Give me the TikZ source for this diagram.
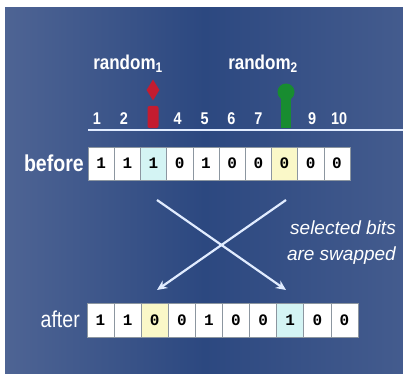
\documentclass[tikz,border=0pt]{standalone}
\usepackage{fontspec}
\setmainfont{Liberation Sans}
\setmonofont{Liberation Mono}
\newfontfamily\condsans[FakeStretch=0.85]{Liberation Sans}
\usetikzlibrary{arrows.meta,shapes.geometric}
\definecolor{bgblue}{RGB}{44,72,128}
\definecolor{bgedge}{RGB}{78,100,148}
\definecolor{linecol}{RGB}{225,236,255}
\definecolor{cellline}{RGB}{140,150,160}
\definecolor{cellcyan}{RGB}{212,244,244}
\definecolor{cellyellow}{RGB}{250,248,200}
\definecolor{markred}{RGB}{196,28,48}
\definecolor{markgreen}{RGB}{24,140,48}
\tikzset{
  lbl/.style={text=white,font=\condsans\bfseries\fontsize{20}{22}\selectfont,inner sep=0pt},
  num/.style={text=white,font=\condsans\bfseries\fontsize{17}{18}\selectfont,inner sep=0pt},
  cell/.style={draw=cellline,line width=0.6pt,minimum width=26.2pt,minimum height=33pt,
    inner sep=0pt,font=\ttfamily\bfseries\fontsize{16}{16}\selectfont},
  swaparrow/.style={linecol,line width=2.2pt,-{Stealth[length=10pt,width=9pt]}}
}
\begin{document}
\begin{tikzpicture}[x=1pt,y=-1pt]
\useasboundingbox (0,0) rectangle (403,374);
\shade[left color=bgedge,right color=bgedge!70!bgblue,middle color=bgblue] (5,8) rectangle (403,373);
% labels on top
\node[lbl] (rnd1) at (128,64) {random\textsubscript{1}};
\node[lbl] (rnd2) at (263,64) {random\textsubscript{2}};
% markers
\node[diamond,fill=markred,inner sep=0pt,minimum width=13pt,minimum height=21pt] (mk1) at (153,90) {};
\fill[markred,rounded corners=2pt] (147.5,106) rectangle (158.5,128);
\node[circle,fill=markgreen,inner sep=0pt,minimum size=17pt] (mk2) at (286,92) {};
\fill[markgreen] (281,97) rectangle (291,128);
% positions
\foreach \i in {1,2,4,5,6,7,9,10}
  \node[num] (n\i) at ({97+26.9*(\i-1)},119) {\i};
\draw[linecol,line width=2pt] (88,130) -- (403,130);
% rows
\node[lbl,anchor=east,font=\condsans\bfseries\fontsize{23}{24}\selectfont] (before) at (84,163) {before};
\foreach \b/\c [count=\i] in {1/white,1/white,1/cellcyan,0/white,1/white,0/white,0/white,0/cellyellow,0/white,0/white}
  \node[cell,fill=\c] (b\i) at ({101.1+26.2*(\i-1)},163.5) {\b};
\node[lbl,anchor=east,font=\condsans\fontsize{23}{24}\selectfont] (after) at (80,319) {after};
\foreach \b/\c [count=\i] in {1/white,1/white,0/cellyellow,0/white,1/white,0/white,0/white,1/cellcyan,0/white,0/white}
  \node[cell,fill=\c,minimum width=27.1pt,minimum height=34pt] (a\i) at ({100.5+27.1*(\i-1)},320) {\b};
% swap arrows
\coordinate (s1) at (157,200);
\coordinate (t1) at (286,290);
\coordinate (s2) at (286,200);
\coordinate (t2) at (157,290);
\draw[swaparrow] (s1) -- (t1);
\draw[swaparrow] (s2) -- (t2);
\node[text=white,font=\itshape\fontsize{19}{26}\selectfont,align=right,anchor=east,inner sep=0pt] (note) at (396,243) {selected bits\\are swapped};
\end{tikzpicture}
\end{document}
